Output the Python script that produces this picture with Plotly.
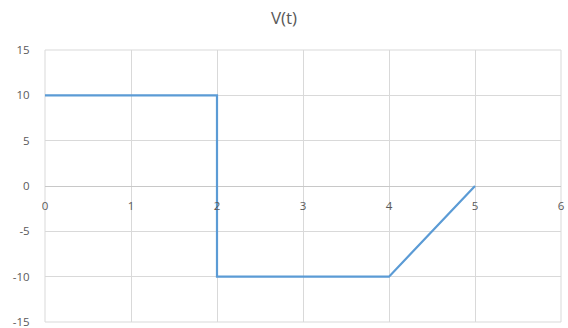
import plotly.graph_objects as go

# Piecewise voltage waveform V(t)
t_values = [0, 2, 2, 4, 5]
v_values = [10, 10, -10, -10, 0]

x_ticks = [0, 1, 2, 3, 4, 5, 6]
y_ticks = [-15, -10, -5, 0, 5, 10, 15]

grid = "#d9d9d9"
text_col = "#595959"
font_family = "Open Sans, Liberation Sans, sans-serif"

fig = go.Figure()
fig.add_trace(go.Scatter(
    x=t_values, y=v_values, mode="lines",
    line=dict(color="#5b9bd5", width=2.2),
    showlegend=False, hoverinfo="x+y",
))

# outer grid frame (gridlines at the range ends)
fig.add_shape(type="rect", xref="paper", yref="paper", x0=0, x1=1, y0=0, y1=1,
              line=dict(color=grid, width=1), layer="below")

fig.update_layout(
    width=568, height=328,
    margin=dict(l=45, r=7, t=50, b=6, autoexpand=False),
    paper_bgcolor="white", plot_bgcolor="white",
    title=dict(text="V(t)", x=0.5, xanchor="center", y=0.945, yanchor="middle",
               font=dict(family=font_family, size=17, color=text_col)),
    font=dict(family=font_family, size=11, color=text_col),
    xaxis=dict(
        range=[0, 6], tickvals=x_ticks, ticktext=[str(v) for v in x_ticks],
        showgrid=True, gridcolor=grid, gridwidth=1,
        zeroline=False, showline=False,
        anchor="free", position=0.5, automargin=False,
        ticks="outside", ticklen=9, tickcolor="rgba(0,0,0,0)",
        tickfont=dict(size=11.5, color=text_col),
        ticklabeloverflow="allow",
    ),
    yaxis=dict(
        range=[-15, 15], tickvals=y_ticks, ticktext=[str(v) for v in y_ticks],
        showgrid=True, gridcolor=grid, gridwidth=1,
        zeroline=True, zerolinecolor="#c8c8c8", zerolinewidth=1,
        showline=False, automargin=False,
        ticks="outside", ticklen=12, tickcolor="rgba(0,0,0,0)",
        tickfont=dict(size=11.5, color=text_col),
        ticklabeloverflow="allow",
    ),
)

fig.write_html("out.html")
